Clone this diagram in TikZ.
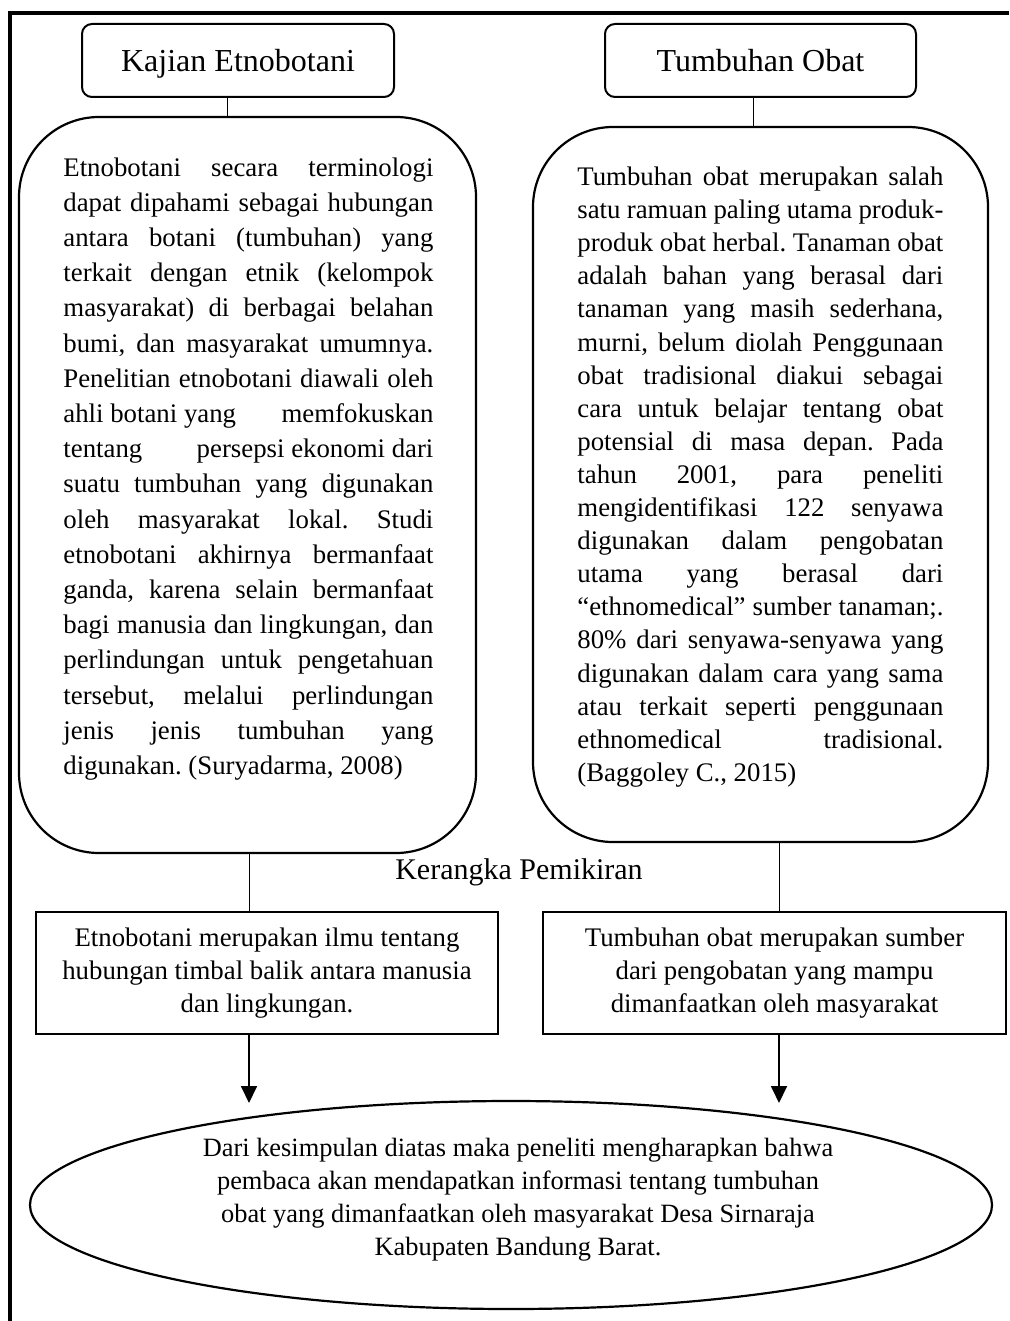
\documentclass[tikz,border=0pt]{standalone}
\usepackage{fontspec}
\setmainfont{Liberation Serif}
\usetikzlibrary{arrows.meta,shapes.geometric}
\newcommand\Lj[1]{\hbox to185pt{#1}}
\newcommand\Ll[1]{\hbox to185pt{#1\hfil}}
\newcommand\Rj[1]{\hbox to183pt{#1}}
\newcommand\Rl[1]{\hbox to183pt{#1\hfil}}
\frenchspacing
\begin{document}
\begin{tikzpicture}[x=0.5pt,y=-0.5pt,
  headbox/.style={draw, line width=1pt, rounded corners=5pt, minimum width=#1, minimum height=36.5pt, inner sep=0pt, text depth=0pt, font=\fontsize{16pt}{19pt}\selectfont},
  roundbox/.style={draw, line width=1.1pt, rounded corners=40pt, inner sep=0pt},
  sqbox/.style={draw, line width=1.1pt, inner sep=0pt, align=center, font=\fontsize{13.4pt}{16.6pt}\selectfont},
  para/.style={inner sep=0pt, align=left, anchor=north west},
  link/.style={line width=0.5pt},
  arr/.style={line width=0.9pt, -{Triangle[length=8.5pt,width=8pt]}},
  frame/.style={line width=1.8pt, line join=miter}]
\useasboundingbox (0,0) rectangle (1009,1321);
\draw[frame] (10,1321) -- (10,13) -- (1009,13);

\node[headbox=156pt] (kaj) at (238,60.5) {Kajian Etnobotani};
\node[headbox=155.5pt] (tum) at (760.5,60.5) {Tumbuhan Obat};

\node[roundbox, minimum width=228.5pt, minimum height=368pt] (lbox) at (247.5,485) {};
\node[roundbox, minimum width=227.5pt, minimum height=357.5pt] (rbox) at (760.5,484.5) {};

\node[para, font=\fontsize{13.4pt}{17.6pt}\selectfont] (ltext) at (63,157) {%
\Lj{Etnobotani secara terminologi}\\
\Lj{dapat dipahami sebagai hubungan}\\
\Lj{antara botani (tumbuhan) yang}\\
\Lj{terkait dengan etnik (kelompok}\\
\Lj{masyarakat) di berbagai belahan}\\
\Lj{bumi, dan masyarakat umumnya.}\\
\Lj{Penelitian etnobotani diawali oleh}\\
\Lj{ahli botani yang\hfill memfokuskan}\\
\Lj{tentang\hfill persepsi ekonomi dari}\\
\Lj{suatu tumbuhan yang digunakan}\\
\Lj{oleh masyarakat lokal. Studi}\\
\Lj{etnobotani akhirnya bermanfaat}\\
\Lj{ganda, karena selain bermanfaat}\\
\Lj{bagi manusia dan lingkungan, dan}\\
\Lj{perlindungan untuk pengetahuan}\\
\Lj{tersebut, melalui perlindungan}\\
\Lj{jenis jenis tumbuhan yang}\\
\Ll{digunakan. (Suryadarma, 2008)}};

\node[para, font=\fontsize{13.4pt}{16.55pt}\selectfont] (rtext) at (577,166.5) {%
\Rj{Tumbuhan obat merupakan salah}\\
\Rj{satu ramuan paling utama produk-}\\
\Rj{produk obat herbal. Tanaman obat}\\
\Rj{adalah bahan yang berasal dari}\\
\Rj{tanaman yang masih sederhana,}\\
\Rj{murni, belum diolah Penggunaan}\\
\Rj{obat tradisional diakui sebagai}\\
\Rj{cara untuk belajar tentang obat}\\
\Rj{potensial di masa depan. Pada}\\
\Rj{tahun 2001, para peneliti}\\
\Rj{mengidentifikasi 122 senyawa}\\
\Rj{digunakan dalam pengobatan}\\
\Rj{utama yang berasal dari}\\
\Rj{“ethnomedical” sumber tanaman;.}\\
\Rj{80\% dari senyawa-senyawa yang}\\
\Rj{digunakan dalam cara yang sama}\\
\Rj{atau terkait seperti penggunaan}\\
\Rj{ethnomedical\hfill tradisional.}\\
\Rl{(Baggoley C., 2015)}};

\node[font=\fontsize{15pt}{18pt}\selectfont, inner sep=0pt] (ker) at (519,872) {Kerangka Pemikiran};

\node[sqbox, minimum width=231pt, minimum height=61pt] (lb2) at (267,973) {Etnobotani merupakan ilmu tentang\\hubungan timbal balik antara manusia\\dan lingkungan.};
\node[sqbox, minimum width=231.5pt, minimum height=61pt] (rb2) at (774.5,973) {Tumbuhan obat merupakan sumber\\dari pengobatan yang mampu\\dimanfaatkan oleh masyarakat};

\node[draw, ellipse, line width=1.1pt, minimum width=481pt, minimum height=104pt, inner sep=0pt] (ell) at (511,1205) {};
\node[align=center, inner sep=0pt, font=\fontsize{13.2pt}{16.5pt}\selectfont] (conc) at (518,1200) {Dari kesimpulan diatas maka peneliti mengharapkan bahwa\\pembaca akan mendapatkan informasi tentang tumbuhan\\obat yang dimanfaatkan oleh masyarakat Desa Sirnaraja\\Kabupaten Bandung Barat.};

\coordinate (c1) at (227,0);
\coordinate (c2) at (753,0);
\coordinate (c3) at (249,0);
\coordinate (c4) at (779,0);
\coordinate (t1) at (249,1103);
\coordinate (t2) at (779,1103);

\draw[link] (kaj.south -| c1) -- (lbox.north -| c1);
\draw[link] (tum.south -| c2) -- (rbox.north -| c2);
\draw[link] (lbox.south -| c3) -- (lb2.north -| c3);
\draw[link] (rbox.south -| c4) -- (rb2.north -| c4);
\draw[arr] (lb2.south -| c3) -- (t1);
\draw[arr] (rb2.south -| c4) -- (t2);
\end{tikzpicture}
\end{document}
